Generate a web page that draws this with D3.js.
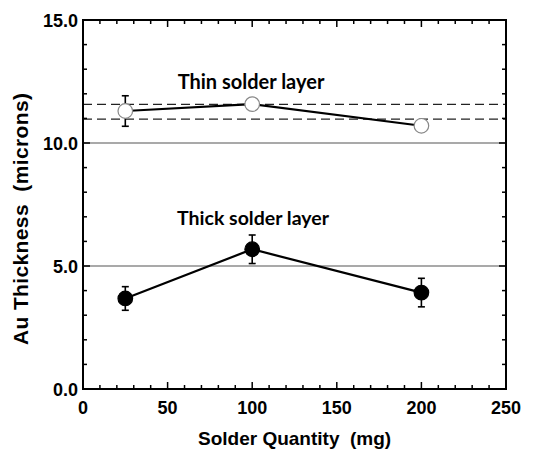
<!DOCTYPE html>
<html>
<head>
<meta charset="utf-8">
<script src="https://cdn.jsdelivr.net/npm/d3@7"></script>
<style>
body { margin: 0; background: #fff; }
text { font-family: "Liberation Sans", Arial, sans-serif; font-weight: bold; }
</style>
</head>
<body>
<svg width="534" height="453"></svg>
<script>
var quantity = [25, 100, 200];
var thinVals = [11.3, 11.58, 10.7];
var thinErr = [0.62, 0.1, 0];
var thickVals = [3.68, 5.68, 3.92];
var thickErr = [0.48, 0.58, 0.58];
var dashedLevels = [11.57, 10.97];
var grayLevels = [10, 5];
var xTicks = [0, 50, 100, 150, 200, 250];
var yTicks = [0, 5, 10, 15];

var svg = d3.select("svg");
var plotL = 83, plotR = 506, plotT = 20, plotB = 389;

var x = d3.scaleLinear().domain([0, 250]).range([plotL, plotR]);
var y = d3.scaleLinear().domain([0, 15]).range([plotB, plotT]);

// gray reference lines
svg.selectAll(".ref")
	.data(grayLevels)
	.enter().append("line")
	.attr("x1", plotL).attr("x2", plotR)
	.attr("y1", function (d) { return y(d); })
	.attr("y2", function (d) { return y(d); })
	.style("stroke", "#8c8c8c")
	.style("stroke-width", 1.6);

// dashed lines
svg.selectAll(".dash")
	.data(dashedLevels)
	.enter().append("line")
	.attr("x1", plotL).attr("x2", plotR)
	.attr("y1", function (d) { return y(d); })
	.attr("y2", function (d) { return y(d); })
	.style("stroke", "#222")
	.style("stroke-width", 1.4)
	.style("stroke-dasharray", "9,5");

// ticks (inward, all four sides)
var xMinor = d3.range(0, 251, 10);
var yMinor = d3.range(0, 15.01, 1);
function tickLen(v, step) { return (Math.abs(v % step) < 1e-6) ? 7 : 4; }
var tg = svg.append("g").style("stroke", "#000").style("stroke-width", 1.5);
xMinor.forEach(function (v) {
	var l = tickLen(v, 50);
	tg.append("line").attr("x1", x(v)).attr("x2", x(v)).attr("y1", plotB).attr("y2", plotB - l);
	tg.append("line").attr("x1", x(v)).attr("x2", x(v)).attr("y1", plotT).attr("y2", plotT + l);
});
yMinor.forEach(function (v) {
	var l = tickLen(v, 5);
	tg.append("line").attr("y1", y(v)).attr("y2", y(v)).attr("x1", plotL).attr("x2", plotL + l);
	tg.append("line").attr("y1", y(v)).attr("y2", y(v)).attr("x1", plotR).attr("x2", plotR - l);
});

// frame
svg.append("rect")
	.attr("x", plotL).attr("y", plotT)
	.attr("width", plotR - plotL).attr("height", plotB - plotT)
	.style("fill", "none").style("stroke", "#000").style("stroke-width", 2);

// tick labels
svg.selectAll(".xl")
	.data(xTicks)
	.enter().append("text")
	.attr("x", function (d) { return x(d); })
	.attr("y", 414)
	.attr("text-anchor", "middle")
	.style("font-size", "18px")
	.text(function (d) { return d; });

svg.selectAll(".yl")
	.data(yTicks)
	.enter().append("text")
	.attr("x", 78)
	.attr("y", function (d) { return y(d) + 6.5; })
	.attr("text-anchor", "end")
	.style("font-size", "18px")
	.text(function (d) { return d.toFixed(1); });

// axis titles
svg.append("text")
	.attr("x", 198).attr("y", 445)
	.style("font-size", "19px")
	.attr("xml:space", "preserve")
	.text("Solder Quantity  (mg)");

svg.append("text")
	.attr("transform", "translate(28,345) rotate(-90)")
	.attr("textLength", 252)
	.style("font-size", "21px")
	.attr("xml:space", "preserve")
	.text("Au Thickness  (microns)");

function drawSeries(vals, errs, fill, stroke) {
	var pts = quantity.map(function (q, i) { return { x: q, y: vals[i], e: errs[i] }; });
	var line = d3.line().x(function (d) { return x(d.x); }).y(function (d) { return y(d.y); });
	svg.append("path").datum(pts).attr("d", line)
		.style("fill", "none").style("stroke", "#000").style("stroke-width", 2.2);
	var eg = svg.append("g").style("stroke", "#000").style("stroke-width", 1.6);
	pts.filter(function (d) { return d.e > 0; }).forEach(function (d) {
		eg.append("line").attr("x1", x(d.x)).attr("x2", x(d.x)).attr("y1", y(d.y - d.e)).attr("y2", y(d.y + d.e));
		eg.append("line").attr("x1", x(d.x) - 3.5).attr("x2", x(d.x) + 3.5).attr("y1", y(d.y - d.e)).attr("y2", y(d.y - d.e));
		eg.append("line").attr("x1", x(d.x) - 3.5).attr("x2", x(d.x) + 3.5).attr("y1", y(d.y + d.e)).attr("y2", y(d.y + d.e));
	});
	svg.selectAll(null).data(pts).enter().append("circle")
		.attr("cx", function (d) { return x(d.x); })
		.attr("cy", function (d) { return y(d.y); })
		.attr("r", 7.3)
		.style("fill", fill).style("stroke", stroke).style("stroke-width", 1.2);
}
drawSeries(thinVals, thinErr, "#fff", "#888");
drawSeries(thickVals, thickErr, "#000", "#000");

// series labels
svg.append("text")
	.attr("x", 251).attr("y", 89)
	.attr("text-anchor", "middle")
	.style("font-family", "Lato, 'Open Sans', sans-serif")
	.style("font-size", "20px")
	.text("Thin solder layer");

svg.append("text")
	.attr("x", 253).attr("y", 225)
	.attr("text-anchor", "middle")
	.style("font-family", "Lato, 'Open Sans', sans-serif")
	.style("font-size", "19.5px")
	.text("Thick solder layer");
</script>
</body>
</html>
